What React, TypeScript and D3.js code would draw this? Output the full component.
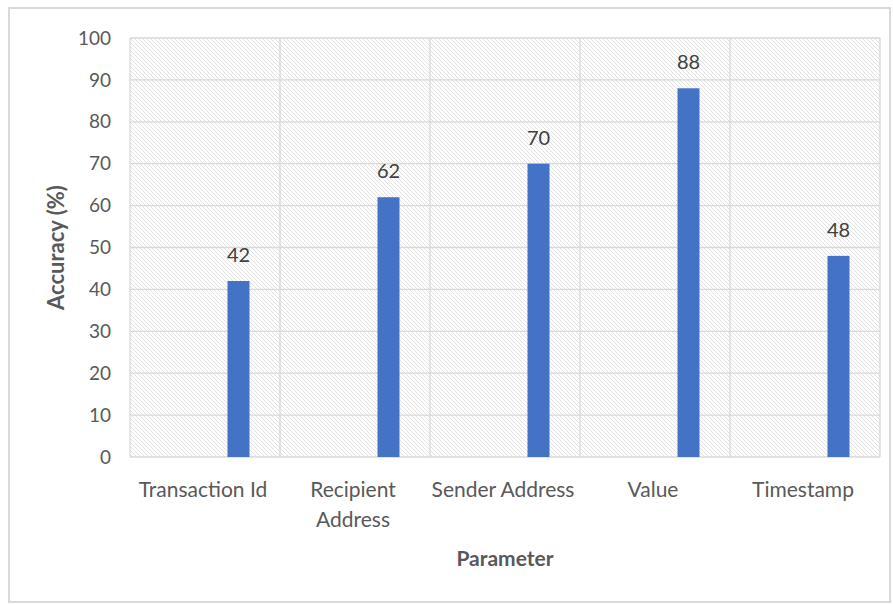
import React from "react";
import * as d3 from "d3";

const categories = ["Transaction Id", "Recipient Address", "Sender Address", "Value", "Timestamp"];
const categoryLines = [["Transaction Id"], ["Recipient", "Address"], ["Sender Address"], ["Value"], ["Timestamp"]];
const accuracy = [42, 62, 70, 88, 48];
const yTicks = [0, 10, 20, 30, 40, 50, 60, 70, 80, 90, 100];

const W = 893;
const H = 604;
const m = { left: 130, right: 13, top: 38, bottom: 147 };
const FONT = "Lato, 'Open Sans', sans-serif";
const TEXT = "#595959";

export default function App() {
  const x = d3
    .scaleBand<string>()
    .domain(categories)
    .range([m.left, W - m.right]);
  const y = d3
    .scaleLinear()
    .domain([0, 100])
    .range([H - m.bottom, m.top]);

  const bw = x.bandwidth();
  const barW = 22;
  const barOffset = bw * 0.65; // bars sit right of band centre

  return (
    <svg width={W} height={H} style={{ position: "absolute", left: 0, top: 0 }}>
      <defs>
        <pattern id="hatch" width="4" height="4" patternUnits="userSpaceOnUse">
          <path d="M-1,-1 L5,5 M-1,3 L1,5 M3,-1 L5,1" stroke="#e2e2e2" strokeWidth="1" />
        </pattern>
      </defs>
      <rect x={0} y={0} width={W} height={H} fill="#fff" />
      <rect x={9} y={8} width={W - 12} height={H - 10} fill="#fff" stroke="#d9d9d9" strokeWidth={2} />

      {/* plot area */}
      <rect
        x={m.left}
        y={m.top}
        width={W - m.left - m.right}
        height={H - m.top - m.bottom}
        fill="url(#hatch)"
      />
      {yTicks.map((t) => (
        <line key={t} x1={m.left} x2={W - m.right} y1={y(t)} y2={y(t)} stroke="#d9d9d9" strokeWidth={1.3} />
      ))}
      {categories.map((c) => (
        <line key={c} x1={x(c)} x2={x(c)} y1={m.top} y2={H - m.bottom} stroke="#d9d9d9" strokeWidth={1.3} />
      ))}
      <line x1={W - m.right} x2={W - m.right} y1={m.top} y2={H - m.bottom} stroke="#d9d9d9" strokeWidth={1.3} />

      {/* y tick labels */}
      {yTicks.map((t) => (
        <text key={t} x={m.left - 19} y={y(t)} dy="0.35em" textAnchor="end" fontFamily={FONT} fontSize={19} fill={TEXT}>
          {t}
        </text>
      ))}

      {/* bars */}
      {categories.map((c, i) => {
        const bx = (x(c) as number) + barOffset;
        return (
          <g key={c}>
            <rect x={bx} y={y(accuracy[i])} width={barW} height={y(0) - y(accuracy[i])} fill="#4472c4" />
            <text
              x={bx + barW / 2}
              y={y(accuracy[i]) - 19}
              textAnchor="middle"
              fontFamily={FONT}
              fontSize={20}
              fill="#404040"
            >
              {accuracy[i]}
            </text>
          </g>
        );
      })}

      {/* category labels */}
      {categories.map((c, i) => (
        <text key={c} textAnchor="middle" fontFamily={FONT} fontSize={21} fill={TEXT}>
          {categoryLines[i].map((ln, j) => (
            <tspan key={j} x={(x(c) as number) + bw / 2 - 2} y={497 + j * 30}>
              {ln}
            </tspan>
          ))}
        </text>
      ))}

      {/* axis titles */}
      <text
        transform={`translate(64,${(m.top + H - m.bottom) / 2}) rotate(-90)`}
        textAnchor="middle"
        fontFamily={FONT}
        fontSize={22}
        fontWeight="bold"
        fill={TEXT}
      >
        Accuracy (%)
      </text>
      <text x={505} y={566} textAnchor="middle" fontFamily={FONT} fontSize={21} fontWeight="bold" fill={TEXT}>
        Parameter
      </text>
    </svg>
  );
}
